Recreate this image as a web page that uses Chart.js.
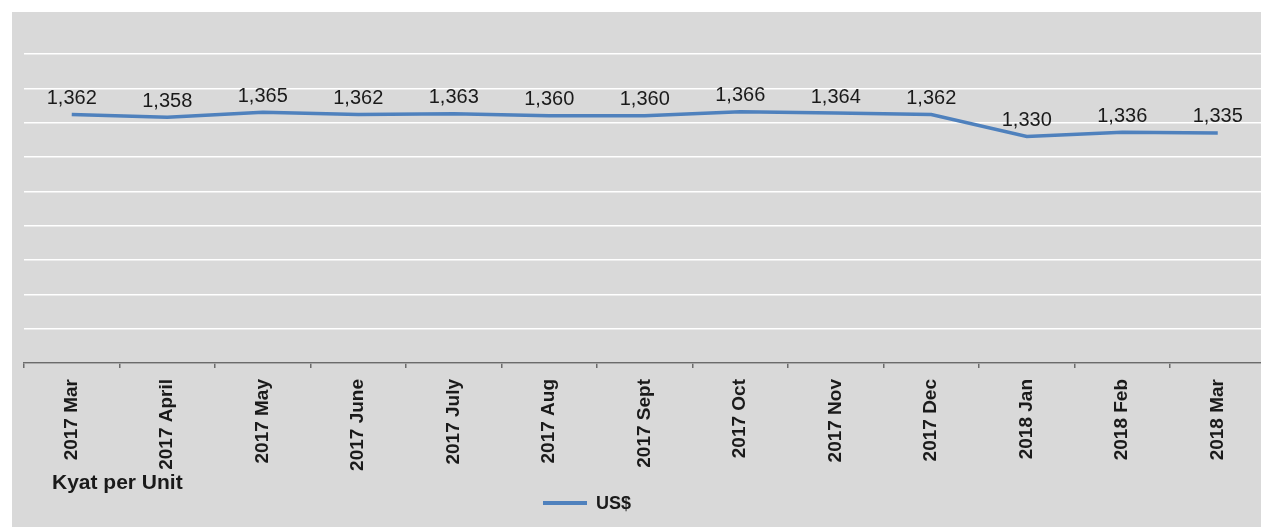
<!DOCTYPE html>
<html lang="en">
<head>
<meta charset="UTF-8">
<title>Kyat per US$</title>
<style>
    html, body {
        margin: 0;
        padding: 0;
        overflow: hidden;
        background: #fff;
    }
    .panel {
        position: absolute;
        left: 12px;
        top: 12px;
        width: 1268px;
        height: 515px;
        background: #d9d9d9;
    }
    .chart-box {
        position: absolute;
        left: 0;
        top: 0;
        width: 1280px;
        height: 527px;
    }
</style>
<script src="https://cdn.jsdelivr.net/npm/chart.js"></script>
</head>
<body>
<div class="panel"></div>
<div class="chart-box"><canvas id="rateChart"></canvas></div>

<script>
    // data
    const months = ['2017 Mar', '2017 April', '2017 May', '2017 June', '2017 July', '2017 Aug',
        '2017 Sept', '2017 Oct', '2017 Nov', '2017 Dec', '2018 Jan', '2018 Feb', '2018 Mar'];
    const usdRates = [1362, 1358, 1365, 1362, 1363, 1360, 1360, 1366, 1364, 1362, 1330, 1336, 1335];
    const seriesName = 'US$';
    const unitNote = 'Kyat per Unit';
    const yMin = 1000, yMax = 1450, yStep = 50;

    const lineColor = '#4f81bd';
    const fontFamily = '"Liberation Sans", Arial, sans-serif';

    // value labels above each point
    const pointLabels = {
        id: 'pointLabels',
        afterDatasetsDraw(chart) {
            const ctx = chart.ctx;
            const meta = chart.getDatasetMeta(0);
            ctx.save();
            ctx.font = '20px ' + fontFamily;
            ctx.fillStyle = '#1a1a1a';
            ctx.textAlign = 'center';
            ctx.textBaseline = 'middle';
            meta.data.forEach((pt, i) => {
                ctx.fillText(usdRates[i].toLocaleString('en-US'), pt.x, pt.y - 16);
            });
            ctx.restore();
        }
    };

    // legend + unit note at the bottom
    const bottomNotes = {
        id: 'bottomNotes',
        afterDraw(chart) {
            const ctx = chart.ctx;
            const ds = chart.data.datasets[0];
            ctx.save();
            ctx.strokeStyle = ds.borderColor;
            ctx.lineWidth = 4;
            ctx.beginPath();
            ctx.moveTo(543, 503);
            ctx.lineTo(587, 503);
            ctx.stroke();
            ctx.fillStyle = '#1a1a1a';
            ctx.font = 'bold 18px ' + fontFamily;
            ctx.textBaseline = 'middle';
            ctx.textAlign = 'left';
            ctx.fillText(ds.label, 596, 504);
            ctx.font = 'bold 21px ' + fontFamily;
            ctx.fillText(unitNote, 52, 483);
            ctx.restore();
        }
    };

    new Chart(document.getElementById('rateChart'), {
        type: 'line',
        data: {
            labels: months,
            datasets: [{
                label: seriesName,
                data: usdRates,
                borderColor: lineColor,
                backgroundColor: lineColor,
                borderWidth: 3.5,
                pointRadius: 0,
                tension: 0
            }]
        },
        options: {
            responsive: true,
            maintainAspectRatio: false,
            animation: false,
            layout: {
                padding: { left: 24, top: 54, right: 14.5, bottom: 0 }
            },
            plugins: {
                legend: { display: false },
                tooltip: { enabled: false }
            },
            scales: {
                x: {
                    offset: true,
                    grid: {
                        offset: true,
                        drawOnChartArea: false,
                        drawTicks: true,
                        tickLength: 5,
                        color: '#6b6b6b',
                        lineWidth: 1.5
                    },
                    border: { display: true, color: '#6b6b6b', width: 1.5 },
                    ticks: {
                        minRotation: 90,
                        maxRotation: 90,
                        padding: 11,
                        color: '#1a1a1a',
                        font: { family: fontFamily, size: 19, weight: 'bold' }
                    },
                    afterFit(scale) { scale.height = 164; }
                },
                y: {
                    min: yMin,
                    max: yMax,
                    ticks: { display: false, stepSize: yStep },
                    grid: { color: '#ffffff', lineWidth: 1.5, drawTicks: false },
                    border: { display: false },
                    afterFit(scale) { scale.width = 0; }
                }
            }
        },
        plugins: [pointLabels, bottomNotes]
    });
</script>
</body>
</html>
